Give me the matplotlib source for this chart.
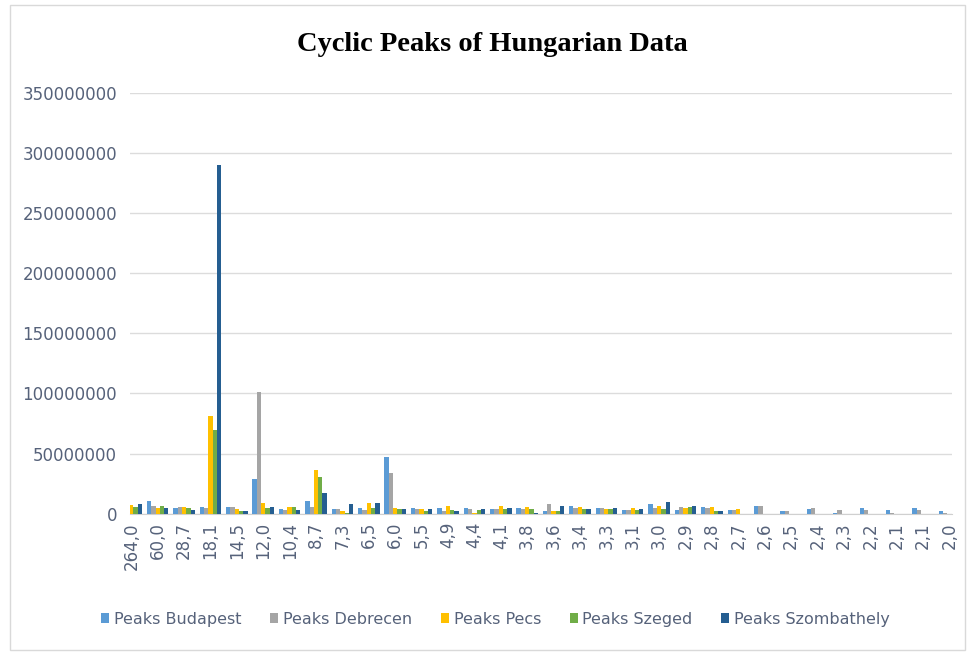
import numpy as np
import matplotlib.pyplot as plt
from matplotlib.patches import Rectangle

# cycle lengths (categories on the x axis)
periods = ["264,0", "60,0", "28,7", "18,1", "14,5", "12,0", "10,4", "8,7",
           "7,3", "6,5", "6,0", "5,5", "4,9", "4,4", "4,1", "3,8",
           "3,6", "3,4", "3,3", "3,1", "3,0", "2,9", "2,8", "2,7",
           "2,6", "2,5", "2,4", "2,3", "2,2", "2,1", "2,1", "2,0"]

# peak values in millions
budapest = [5.0, 10.6, 4.6, 5.7, 5.7, 28.7, 3.8, 10.6, 3.8, 4.6, 47.5, 4.6, 4.6, 4.6, 3.8, 4.6,
            1.9, 6.8, 4.6, 3.0, 7.9, 3.0, 5.7, 3.0, 6.8, 1.9, 3.8, 0.8, 4.9, 3.0, 4.9, 1.9]
debrecen = [5.0, 6.8, 5.7, 4.6, 5.7, 101.6, 3.0, 5.7, 3.8, 3.0, 33.6, 3.8, 1.9, 3.8, 3.8, 3.8,
            7.9, 4.6, 4.6, 3.0, 4.6, 5.7, 4.6, 3.0, 6.8, 1.9, 4.9, 3.0, 3.0, 0.8, 3.0, 0.8]
pecs = [7.6, 4.6, 5.7, 81.0, 3.8, 9.0, 5.7, 36.6, 1.9, 9.0, 4.6, 3.8, 6.8, 0.8, 6.8, 5.7,
        1.9, 5.7, 3.8, 4.6, 6.8, 4.6, 5.7, 3.8, 0, 0, 0, 0, 0, 0, 0, 0]
szeged = [5.7, 6.8, 4.6, 70.0, 1.9, 4.9, 5.7, 30.6, 0.8, 4.6, 3.8, 2.7, 3.0, 3.0, 3.8, 3.8,
          1.9, 3.8, 3.8, 3.0, 3.8, 5.7, 1.9, 0, 0, 0, 0, 0, 0, 0, 0, 0]
szombathely = [7.9, 4.6, 3.5, 290.0, 1.9, 5.7, 3.5, 16.9, 7.9, 9.0, 3.8, 3.8, 1.9, 3.8, 4.6, 0.8,
               6.8, 3.8, 4.6, 3.8, 9.8, 6.8, 1.9, 0, 0, 0, 0, 0, 0, 0, 0, 0]

series = [("Peaks Budapest", budapest, "#5b9bd5"),
          ("Peaks Debrecen", debrecen, "#a5a5a5"),
          ("Peaks Pecs", pecs, "#ffc000"),
          ("Peaks Szeged", szeged, "#70ad47"),
          ("Peaks Szombathely", szombathely, "#255e91")]

txt = "#56627a"

fig = plt.figure(figsize=(9.68, 6.52), dpi=100)
ax = fig.add_axes([0.134, 0.212, 0.849, 0.646])

x = np.arange(len(periods))
w = 0.163
for i, (name, vals, col) in enumerate(series):
    ax.bar(x + (i - 2) * w, np.array(vals) * 1e6, w, color=col, label=name, zorder=3)

ax.set_xlim(-0.06, 31.08)
ax.set_ylim(0, 350000000)
ax.set_yticks(range(0, 350000001, 50000000))
ax.set_yticklabels([str(v) for v in range(0, 350000001, 50000000)])
ax.set_xticks(x)
ax.set_xticklabels(periods, rotation=90)
ax.tick_params(axis="both", length=0, colors=txt, labelsize=12)
ax.tick_params(axis="y", pad=9)
ax.tick_params(axis="x", pad=6)
ax.grid(axis="y", color="#dcdcdc", lw=1, zorder=0)
for s in ["left", "right", "top"]:
    ax.spines[s].set_visible(False)
ax.spines["bottom"].set_color("#d0d0d0")

fig.text(0.509, 0.931, "Cyclic Peaks of Hungarian Data", ha="center", va="center",
         fontsize=20.5, fontweight="bold", family="Liberation Serif")

fig.legend(loc="center", bbox_to_anchor=(0.512, 0.05), ncol=5, frameon=False,
           fontsize=11.5, handlelength=0.5, handleheight=0.6, handletextpad=0.3,
           columnspacing=1.8, labelcolor=txt)

fig.patches.append(Rectangle((0.01, 0.003), 0.987, 0.99, transform=fig.transFigure,
                             fill=False, edgecolor="#d9d9d9", lw=1))

fig.savefig("out.png", dpi=100)
